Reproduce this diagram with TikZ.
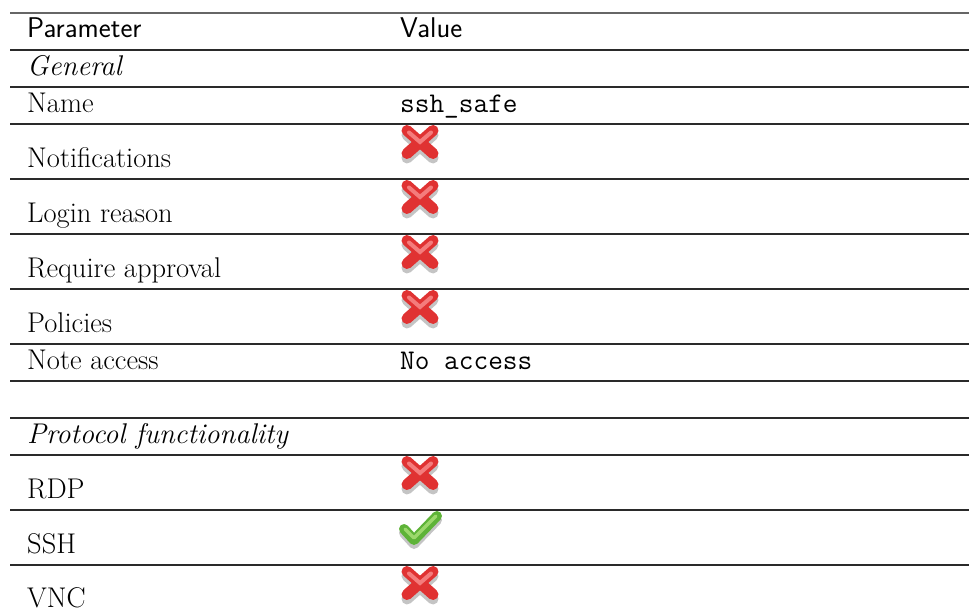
\documentclass[tikz,border=0pt]{standalone}
\usepackage{fontspec}
\definecolor{rulec}{HTML}{2A2A2A}
\definecolor{xred}{HTML}{E03232}
\definecolor{xredl}{HTML}{F47C7C}
\definecolor{cgreen}{HTML}{5EB338}
\definecolor{cgreenl}{HTML}{9CD86C}
\definecolor{shad}{HTML}{C4C4C4}
\tikzset{
  cell/.style={anchor=base west, inner sep=0pt, font=\fontsize{28.5}{34}\selectfont},
  hcell/.style={cell, font=\fontsize{28.5}{34}\selectfont\sffamily},
  tcell/.style={cell, font=\fontsize{28.5}{34}\selectfont\ttfamily},
  icell/.style={cell, font=\fontsize{28.5}{34}\selectfont\itshape},
  rowrule/.style={draw=rulec, line width=1.2pt},
  toprule/.style={draw=black!60, line width=1.8pt},
  xicon/.pic={
    \draw[shad, line width=11pt, line cap=round] (6,11) -- (32,34) (32,11) -- (6,34);
    \draw[xred, line width=11pt, line cap=round] (6,6.5) -- (32,29.5) (32,6.5) -- (6,29.5);
    \draw[xredl, line width=4pt, line cap=round] (8,8.5) -- (19,18) -- (30,8.5);
  },
  cicon/.pic={
    \draw[shad, line width=10pt, line cap=round, line join=round] (5,23) -- (15,34) -- (38,10);
    \draw[cgreen, line width=10pt, line cap=round, line join=round] (5,19) -- (15,30) -- (38,6);
    \draw[cgreenl, line width=3.5pt, line cap=round, line join=round] (6,19) -- (15,28) -- (37,6);
  }
}
\begin{document}
\begin{tikzpicture}[x=1pt,y=-1pt]
\useasboundingbox (0,0) rectangle (969,610);
\fill[white] (0,0) rectangle (969,610);
% rules
\draw[toprule] (10,13) -- (969,13);
\foreach \yy in {50,87,124,179,234,289,344,381,418,455,510,565} {
  \draw[rowrule] (10,\yy) -- (969,\yy);
}
% header
\node[hcell] (hp) at (27,38) {Parameter};
\node[hcell] (hv) at (400,38) {Value};
% General
\node[icell] (gen) at (27,75) {General};
\node[cell] (name) at (27,112) {Name};
\node[tcell] (namev) at (400,112) {ssh\_safe};
\node[cell] (notif) at (27,167) {Notifications};
\pic at (401,124) {xicon};
\node[cell] (login) at (27,222) {Login reason};
\pic at (401,179) {xicon};
\node[cell] (appr) at (27,277) {Require approval};
\pic at (401,234) {xicon};
\node[cell] (pol) at (27,332) {Policies};
\pic at (401,289) {xicon};
\node[cell] (note) at (27,369) {Note access};
\node[tcell] (notev) at (400,369) {No access};
% Protocol
\node[icell] (proto) at (27,443) {Protocol functionality};
\node[cell] (rdp) at (27,498) {RDP};
\pic at (401,455) {xicon};
\node[cell] (ssh) at (27,553) {SSH};
\pic at (399,510) {cicon};
\node[cell] (vnc) at (27,607) {VNC};
\pic at (401,565) {xicon};
\end{tikzpicture}
\end{document}
